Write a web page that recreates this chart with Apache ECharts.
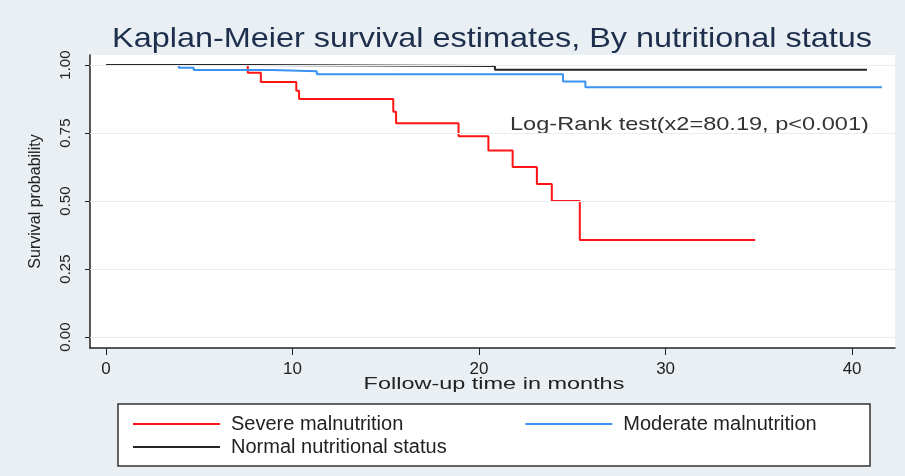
<!DOCTYPE html>
<html>
<head>
<meta charset="utf-8">
<script src="https://cdn.jsdelivr.net/npm/echarts@6/dist/echarts.min.js"></script>
<style>
  html, body { margin: 0; padding: 0; background: #e9eff3; }
  #chart { width: 905px; height: 476px; }
</style>
</head>
<body>
<div id="chart"></div>
<script>
// Kaplan-Meier curves (months, survival)
var severeTime   = [0, 7.6, 8.3, 10.2, 10.35, 15.4, 15.55, 18.9, 20.5, 21.8, 23.1, 23.9, 25.4, 34.8];
var severeSurv   = [1, 0.972, 0.938, 0.906, 0.875, 0.828, 0.786, 0.738, 0.686, 0.625, 0.5625, 0.5, 0.357, 0.357];
var moderateTime = [0, 3.9, 4.7, 8.9, 11.3, 24.5, 25.7, 41.6];
var moderateSurv = [1, 0.99, 0.982, 0.977, 0.966, 0.94, 0.918, 0.918];
var normalTime   = [0, 7.9, 20.85, 40.8];
var normalSurv   = [1, 0.997, 0.983, 0.983];

var xTicks = [0, 10, 20, 30, 40];
var yTicks = [0, 0.25, 0.5, 0.75, 1];
var seriesNames = ['Severe malnutrition', 'Moderate malnutrition', 'Normal nutritional status'];
var titleText = 'Kaplan-Meier survival estimates, By nutritional status';
var xName = 'Follow-up time in months';
var annotation = 'Log-Rank test(x2=80.19, p<0.001)';

function pairs(t, s) {
    return t.map(function (v, i) { return [v, s[i]]; });
}

var font = '"Liberation Sans", Arial, sans-serif';
var myChart = echarts.init(document.getElementById('chart'));

function kmLine(name, t, s, color) {
    return {
        name: name,
        type: 'line',
        step: 'end',
        showSymbol: false,
        symbol: 'none',
        silent: true,
        lineStyle: { color: color, width: 2 },
        itemStyle: { color: color },
        data: pairs(t, s)
    };
}

var series = [
    kmLine(seriesNames[0], severeTime, severeSurv, '#ff1414'),
    kmLine(seriesNames[1], moderateTime, moderateSurv, '#3a93f2'),
    kmLine(seriesNames[2], normalTime, normalSurv, '#262626')
];
// light grid lines at the y ticks
series.push({
    type: 'line',
    data: [],
    silent: true,
    markLine: {
        silent: true,
        symbol: 'none',
        label: { show: false },
        lineStyle: { color: '#e8eef1', width: 1, type: 'solid' },
        data: yTicks.map(function (v) { return { yAxis: v }; })
    },
    z: 1
});

var legendText = { fontFamily: font, fontSize: 20, color: '#222', padding: [0, 0, 0, 6] };

var option = {
    backgroundColor: '#e9eff3',
    animation: false,
    grid: { left: 90, right: 10, top: 55, bottom: 128, show: true, backgroundColor: '#ffffff', borderWidth: 0 },
    xAxis: {
        type: 'value',
        min: -0.86,
        max: 42.3,
        axisLine: { show: true, onZero: false, lineStyle: { color: '#222', width: 1.5 } },
        axisTick: { show: true, length: 7, customValues: xTicks, lineStyle: { color: '#222' } },
        axisLabel: { customValues: xTicks, margin: 13, fontFamily: font, fontSize: 17, color: '#222' },
        splitLine: { show: false }
    },
    yAxis: {
        type: 'value',
        min: -0.04,
        max: 1.037,
        name: 'Survival probability',
        nameLocation: 'middle',
        nameRotate: 90,
        nameGap: 46,
        nameTextStyle: { fontFamily: font, fontSize: 16, color: '#222' },
        axisLine: { show: true, onZero: false, lineStyle: { color: '#222', width: 1.5 } },
        axisTick: { show: true, length: 5, customValues: yTicks, lineStyle: { color: '#222' } },
        axisLabel: {
            customValues: yTicks,
            rotate: 90,
            margin: 17,
            fontFamily: font,
            fontSize: 15,
            color: '#222',
            formatter: function (v) { return v.toFixed(2); }
        },
        splitLine: { show: false }
    },
    legend: [{
        data: seriesNames.slice(0, 2),
        left: 128,
        top: 409,
        icon: 'rect',
        itemWidth: 87,
        itemHeight: 2,
        itemGap: 122,
        selectedMode: false,
        textStyle: legendText
    }, {
        data: seriesNames.slice(2),
        left: 128,
        top: 432,
        icon: 'rect',
        itemWidth: 87,
        itemHeight: 2,
        selectedMode: false,
        textStyle: legendText
    }],
    graphic: [{
        type: 'rect',
        shape: { x: 118, y: 404, width: 752, height: 62 },
        style: { fill: '#ffffff', stroke: '#333', lineWidth: 1.5 },
        z: -1,
        silent: true
    }, {
        type: 'text',
        x: 492,
        y: 39,
        scaleX: 1.157,
        style: {
            text: titleText, align: 'center', verticalAlign: 'middle',
            fontFamily: font, fontSize: 28, fill: '#1d2f4d'
        },
        silent: true
    }, {
        type: 'text',
        x: 494,
        y: 384,
        scaleX: 1.38,
        style: {
            text: xName, align: 'center', verticalAlign: 'middle',
            fontFamily: font, fontSize: 17, fill: '#222'
        },
        silent: true
    }, {
        type: 'text',
        x: 510,
        y: 125,
        scaleX: 1.24,
        style: {
            text: annotation, align: 'left', verticalAlign: 'middle',
            fontFamily: font, fontSize: 19, fill: '#333'
        },
        silent: true
    }],
    series: series
};

myChart.setOption(option);
</script>
</body>
</html>
